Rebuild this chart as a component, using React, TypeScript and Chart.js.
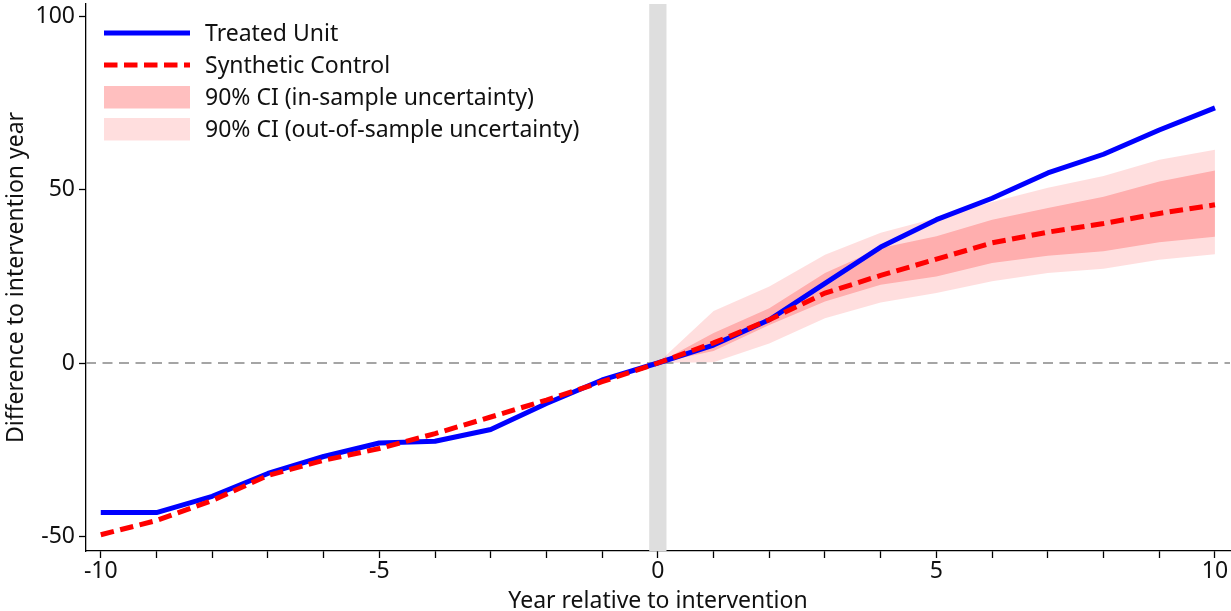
import React, { useEffect, useRef } from 'react';
import { Chart, registerables } from 'chart.js';

Chart.register(...registerables);

// ---- data ----
const YEARS = [-10, -9, -8, -7, -6, -5, -4, -3, -2, -1, 0, 1, 2, 3, 4, 5, 6, 7, 8, 9, 10];
const TREATED = [-43.2, -43.2, -38.5, -31.9, -27.0, -23.1, -22.6, -19.2, -11.7, -4.9, 0, 5.2, 12.5, 23.0, 33.5, 41.4, 47.6, 54.9, 60.3, 67.3, 73.7];
const SYNTHETIC = [-49.6, -45.5, -39.7, -32.5, -28.1, -24.7, -20.4, -15.6, -10.7, -5.4, 0, 5.8, 12.5, 20.2, 25.3, 30.0, 34.7, 37.8, 40.3, 43.2, 45.7];

const POST_YEARS = [0, 1, 2, 3, 4, 5, 6, 7, 8, 9, 10];
const IN_UPPER = [0, 8.7, 15.8, 26.0, 33.2, 36.6, 41.4, 44.8, 48.0, 52.4, 55.6];
const IN_LOWER = [0, 3.5, 11.0, 17.8, 22.6, 25.0, 28.9, 31.0, 32.3, 34.9, 36.5];
const OUT_UPPER = [0, 15.0, 22.1, 31.3, 37.6, 41.9, 46.5, 50.6, 54.0, 58.7, 61.6];
const OUT_LOWER = [0, 0.2, 5.6, 12.9, 17.5, 20.2, 23.6, 26.0, 27.2, 29.8, 31.4];

const X_TICKS = [-10, -9, -8, -7, -6, -5, -4, -3, -2, -1, 0, 1, 2, 3, 4, 5, 6, 7, 8, 9, 10];
const X_LABELS = [-10, -5, 0, 5, 10];
const Y_TICKS = [-50, 0, 50, 100];
const X_MIN = -10.265;
const X_MAX = 10.27;
const Y_MIN = -54.3;
const Y_MAX = 103.7;
const BAND_X = [-0.155, 0.155];
const ZERO_X = [X_MIN, X_MAX];
const ZERO_Y = [0, 0];

const LEGEND_LABELS = [
  'Treated Unit',
  'Synthetic Control',
  '90% CI (in-sample uncertainty)',
  '90% CI (out-of-sample uncertainty)',
];
const X_TITLE = 'Year relative to intervention';
const Y_TITLE = 'Difference to intervention year';

// ---- styles ----
const FONT = "'Noto Sans', sans-serif";
const FONT_SIZE = 23;
const BLUE = '#0000ff';
const RED = '#ff0000';
const DARK_FILL = 'rgba(255,0,0,0.22)';
const LIGHT_FILL = 'rgba(255,0,0,0.13)';
const DARK_PATCH = 'rgba(255,0,0,0.25)';
const BAND_COLOR = '#dedede';
const TEXT = '#111111';

const pts = (xs: number[], ys: number[]) => xs.map((x, i) => ({ x, y: ys[i] }));

const bandPlugin = {
  id: 'interventionBand',
  beforeDatasetsDraw(chart: any) {
    const { ctx, chartArea, scales } = chart;
    const x0 = scales.x.getPixelForValue(BAND_X[0]);
    const x1 = scales.x.getPixelForValue(BAND_X[1]);
    ctx.save();
    ctx.fillStyle = BAND_COLOR;
    ctx.fillRect(x0, chartArea.top, x1 - x0, chartArea.bottom - chartArea.top);
    ctx.restore();
  },
};

const legendPlugin = {
  id: 'insideLegend',
  afterDraw(chart: any) {
    const { ctx, chartArea } = chart;
    const sx = chartArea.left + 18;
    const sw = 86;
    const tx = chartArea.left + 119;
    const rows = [29, 61, 93, 125].map((d) => chartArea.top + d);
    ctx.save();
    // treated
    ctx.strokeStyle = BLUE;
    ctx.lineWidth = 5;
    ctx.lineCap = 'butt';
    ctx.beginPath();
    ctx.moveTo(sx, rows[0]);
    ctx.lineTo(sx + sw, rows[0]);
    ctx.stroke();
    // synthetic
    ctx.strokeStyle = RED;
    ctx.setLineDash([13.5, 6.5]);
    ctx.beginPath();
    ctx.moveTo(sx, rows[1]);
    ctx.lineTo(sx + sw, rows[1]);
    ctx.stroke();
    ctx.setLineDash([]);
    // patches
    ctx.fillStyle = DARK_PATCH;
    ctx.fillRect(sx, rows[2] - 11, sw, 22.5);
    ctx.fillStyle = LIGHT_FILL;
    ctx.fillRect(sx, rows[3] - 11, sw, 22.5);
    // text
    ctx.fillStyle = TEXT;
    ctx.font = `${FONT_SIZE}px ${FONT}`;
    ctx.textAlign = 'left';
    ctx.textBaseline = 'middle';
    LEGEND_LABELS.forEach((t, i) => ctx.fillText(t, tx, rows[i] + 1.5));
    ctx.restore();
  },
};

export default function App() {
  const ref = useRef<HTMLCanvasElement | null>(null);

  useEffect(() => {
    if (!ref.current) return;
    Chart.defaults.font.family = FONT;
    Chart.defaults.font.size = FONT_SIZE;
    Chart.defaults.color = TEXT;

    const chart = new Chart(ref.current, {
      type: 'line',
      data: {
        datasets: [
          {
            label: 'out upper',
            data: pts(POST_YEARS, OUT_UPPER),
            fill: 1,
            backgroundColor: LIGHT_FILL,
            borderWidth: 0,
            pointRadius: 0,
            order: 7,
          },
          {
            label: 'out lower',
            data: pts(POST_YEARS, OUT_LOWER),
            fill: false,
            borderWidth: 0,
            pointRadius: 0,
            order: 8,
          },
          {
            label: 'in upper',
            data: pts(POST_YEARS, IN_UPPER),
            fill: 3,
            backgroundColor: DARK_FILL,
            borderWidth: 0,
            pointRadius: 0,
            order: 5,
          },
          {
            label: 'in lower',
            data: pts(POST_YEARS, IN_LOWER),
            fill: false,
            borderWidth: 0,
            pointRadius: 0,
            order: 6,
          },
          {
            label: 'zero',
            data: pts(ZERO_X, ZERO_Y),
            borderColor: '#888888',
            borderWidth: 1.4,
            borderDash: [10, 6.5],
            pointRadius: 0,
            fill: false,
            order: 4,
          },
          {
            label: LEGEND_LABELS[0],
            data: pts(YEARS, TREATED),
            borderColor: BLUE,
            borderWidth: 5,
            pointRadius: 0,
            fill: false,
            tension: 0,
            borderJoinStyle: 'round',
            order: 1,
          },
          {
            label: LEGEND_LABELS[1],
            data: pts(YEARS, SYNTHETIC),
            borderColor: RED,
            borderWidth: 5,
            borderDash: [13.5, 6.5],
            borderCapStyle: 'butt',
            pointRadius: 0,
            fill: false,
            tension: 0,
            order: 0,
          },
        ],
      },
      options: {
        responsive: false,
        maintainAspectRatio: false,
        animation: false,
        layout: { padding: { top: 4, right: 1, left: 0, bottom: 0 } },
        plugins: {
          legend: { display: false },
          tooltip: { enabled: false },
        },
        scales: {
          x: {
            type: 'linear',
            position: 'bottom',
            min: X_MIN,
            max: X_MAX,
            afterBuildTicks: (s: any) => {
              s.ticks = X_TICKS.map((v) => ({ value: v }));
            },
            afterFit: (s: any) => {
              s.height = 60;
              s.paddingLeft = 0;
              s.paddingRight = 0;
            },
            ticks: {
              autoSkip: false,
              maxRotation: 0,
              padding: 0,
              color: TEXT,
              font: { size: FONT_SIZE },
              callback: (v: any) => (X_LABELS.includes(Number(v)) ? String(v) : ''),
            },
            grid: {
              drawOnChartArea: false,
              drawTicks: true,
              tickLength: 7,
              tickWidth: 1.3,
              tickColor: '#000',
            },
            border: { display: true, color: '#000', width: 1.3 },
            title: {
              display: true,
              text: X_TITLE,
              color: TEXT,
              font: { size: FONT_SIZE, lineHeight: 1.0 },
              padding: { top: 0, bottom: -2 },
            },
          },
          y: {
            type: 'linear',
            min: Y_MIN,
            max: Y_MAX,
            afterBuildTicks: (s: any) => {
              s.ticks = Y_TICKS.map((v) => ({ value: v }));
            },
            afterFit: (s: any) => {
              s.width = 86;
              s.paddingTop = 0;
              s.paddingBottom = 0;
            },
            ticks: {
              padding: 4,
              color: TEXT,
              font: { size: FONT_SIZE },
              callback: (v: any) => String(v),
            },
            grid: {
              drawOnChartArea: false,
              drawTicks: true,
              tickLength: 7,
              tickWidth: 1.3,
              tickColor: '#000',
            },
            border: { display: true, color: '#000', width: 1.3 },
            title: {
              display: true,
              text: Y_TITLE,
              color: TEXT,
              font: { size: FONT_SIZE, lineHeight: 1.0 },
              padding: { top: 5, bottom: 0 },
            },
          },
        },
      } as any,
      plugins: [bandPlugin, legendPlugin],
    });
    return () => chart.destroy();
  }, []);

  return (
    <div style={{ position: 'fixed', left: 0, top: 0, width: 1231, height: 611, background: '#fff' }}>
      <canvas ref={ref} width={1231} height={611} style={{ display: 'block', width: 1231, height: 611 }} />
    </div>
  );
}
